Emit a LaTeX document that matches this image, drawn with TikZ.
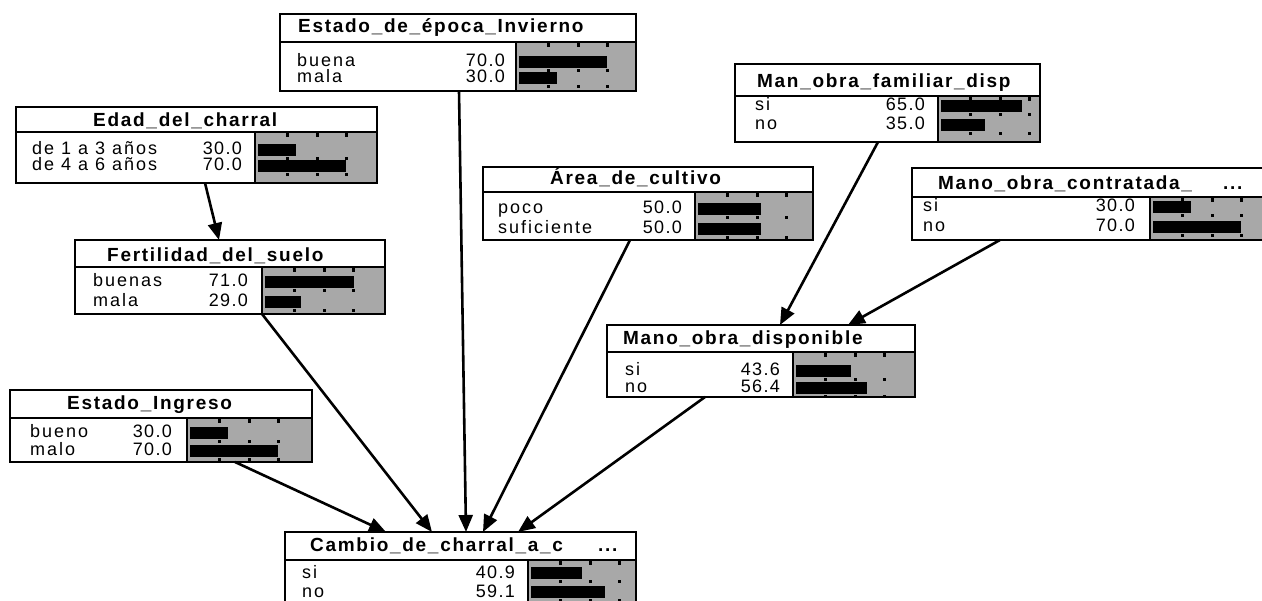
\documentclass[tikz,border=0pt]{standalone}
\usepackage{fontspec}
\setmainfont{Liberation Sans}
\newfontface\ttlfont[LetterSpace=9]{Liberation Sans Bold}
\newfontface\rowfont[LetterSpace=11]{Liberation Sans}
\newfontface\valfont[LetterSpace=7]{Liberation Sans}
\usetikzlibrary{fit,arrows.meta,calc}
\definecolor{stip}{gray}{0.66}
\tikzset{
  boxframe/.style={draw, line width=1.7pt, inner sep=0pt, outer sep=0pt},
  sepline/.style={line width=1.3pt},
  arr/.style={line width=2.6pt, -{Triangle[length=17pt,width=14pt]}},
  ttl/.style={inner sep=0pt, anchor=base west, text height=13pt, text depth=2pt,
    font=\ttlfont\fontsize{19}{19}\selectfont},
  rtx/.style={inner sep=0pt, anchor=base west, text height=11pt, text depth=1pt,
    font=\rowfont\fontsize{18}{18}\selectfont},
  vtx/.style={inner sep=0pt, anchor=base east, text height=11pt, text depth=1pt,
    font=\valfont\fontsize{18}{18}\selectfont},
}
% name, x0, ytop, x1, yhead, xdiv, ybot
\newcommand\netbox[7]{%
  \fill[white] (#2,#3) rectangle (#4,#7);
  \fill[stip] (#6,#5) rectangle (#4,#7);
  \foreach \t in {31,61,90} {\fill (#6+\t,#5+1) rectangle ++(3,4);}
  \draw[sepline] (#2,#5) -- (#4,#5);
  \draw[sepline] (#6,#5) -- (#6,#7);
  \node[boxframe, fit={(#2,#3) (#4,#7)}] (#1) {};
}
% name, xtext, xvalend, baseline, label, value, xdiv
\newcommand\netrow[7]{%
  \node[rtx] (#1-l) at (#2,#4) {#5};
  \node[vtx] (#1-v) at (#3,#4) {#6};
  \foreach \t in {31,61,90} {\fill (#7+\t,#4+2) rectangle ++(3,3);}
  \fill (#7+3,#4-11) rectangle (#7+3+1.25*#6,#4+1);
}
\begin{document}
\begin{tikzpicture}[x=1pt,y=-1pt]
\useasboundingbox (0,0) rectangle (1262,601);
\clip (0,0) rectangle (1262,601);
\fill[white] (0,0) rectangle (1262,601);

% Estado_de_epoca_Invierno
\netbox{epo}{280}{14}{636}{42}{516}{91}
\node[ttl] (epo-t) at (298,33) {Estado\_de\_época\_Invierno};
\netrow{epo-1}{297}{505}{67}{buena}{70.0}{516}
\netrow{epo-2}{297}{505}{83}{mala}{30.0}{516}

% Edad_del_charral
\netbox{eda}{16}{107}{377}{132}{255}{183}
\node[ttl] (eda-t) at (93,127) {Edad\_del\_charral};
\netrow{eda-1}{32}{242}{155}{de 1 a 3 años}{30.0}{255}
\netrow{eda-2}{32}{242}{171}{de 4 a 6 años}{70.0}{255}

% Fertilidad_del_suelo
\netbox{fer}{75}{240}{385}{267}{262}{314}
\node[ttl] (fer-t) at (107,262) {Fertilidad\_del\_suelo};
\netrow{fer-1}{93}{248}{287}{buenas}{71.0}{262}
\netrow{fer-2}{93}{248}{307}{mala}{29.0}{262}

% Estado_Ingreso
\netbox{ing}{10}{390}{312}{418}{187}{462}
\node[ttl] (ing-t) at (67,410) {Estado\_Ingreso};
\netrow{ing-1}{30}{172}{438}{bueno}{30.0}{187}
\netrow{ing-2}{30}{172}{456}{malo}{70.0}{187}

% Cambio_de_charral_a_c ...
\netbox{cam}{285}{532}{636}{560}{528}{612}
\node[ttl] (cam-t) at (310,551) {Cambio\_de\_charral\_a\_c};
\node[ttl] (cam-d) at (598,551) {...};
\netrow{cam-1}{302}{515}{578}{si}{40.9}{528}
\netrow{cam-2}{302}{515}{597}{no}{59.1}{528}

% Man_obra_familiar_disp
\netbox{fam}{735}{64}{1040}{96}{938}{142}
\node[ttl] (fam-t) at (757,88) {Man\_obra\_familiar\_disp};
\netrow{fam-1}{755}{925}{111}{si}{65.0}{938}
\netrow{fam-2}{755}{925}{130}{no}{35.0}{938}

% Area_de_cultivo
\netbox{are}{483}{167}{813}{192}{695}{240}
\node[ttl] (are-t) at (550,185) {Área\_de\_cultivo};
\netrow{are-1}{498}{682}{214}{poco}{50.0}{695}
\netrow{are-2}{498}{682}{234}{suficiente}{50.0}{695}

% Mano_obra_contratada_ ...
\netbox{con}{912}{168}{1266}{197}{1150}{240}
\node[ttl] (con-t) at (938,190) {Mano\_obra\_contratada\_};
\node[ttl] (con-d) at (1223,190) {...};
\netrow{con-1}{923}{1135}{212}{si}{30.0}{1150}
\netrow{con-2}{923}{1135}{232}{no}{70.0}{1150}

% Mano_obra_disponible
\netbox{dis}{607}{325}{915}{352}{793}{397}
\node[ttl] (dis-t) at (623,345) {Mano\_obra\_disponible};
\netrow{dis-1}{625}{780}{376}{si}{43.6}{793}
\netrow{dis-2}{625}{780}{393}{no}{56.4}{793}

% connectors
\draw[arr] ([xshift=189pt]eda.south west) -- ([xshift=144pt]fer.north west);
\draw[arr] ([xshift=179pt]epo.south west) -- ([xshift=181pt]cam.north west);
\draw[arr] ([xshift=187pt]fer.south west) -- ([xshift=147pt]cam.north west);
\draw[arr] ([xshift=225pt]ing.south west) -- ([xshift=101pt]cam.north west);
\draw[arr] ([xshift=147pt]are.south west) -- ([xshift=198pt]cam.north west);
\draw[arr] ([xshift=98pt]dis.south west) -- ([xshift=233pt]cam.north west);
\draw[arr] ([xshift=143pt]fam.south west) -- ([xshift=173pt]dis.north west);
\draw[arr] ([xshift=88pt]con.south west) -- ([xshift=241pt]dis.north west);
\end{tikzpicture}
\end{document}
